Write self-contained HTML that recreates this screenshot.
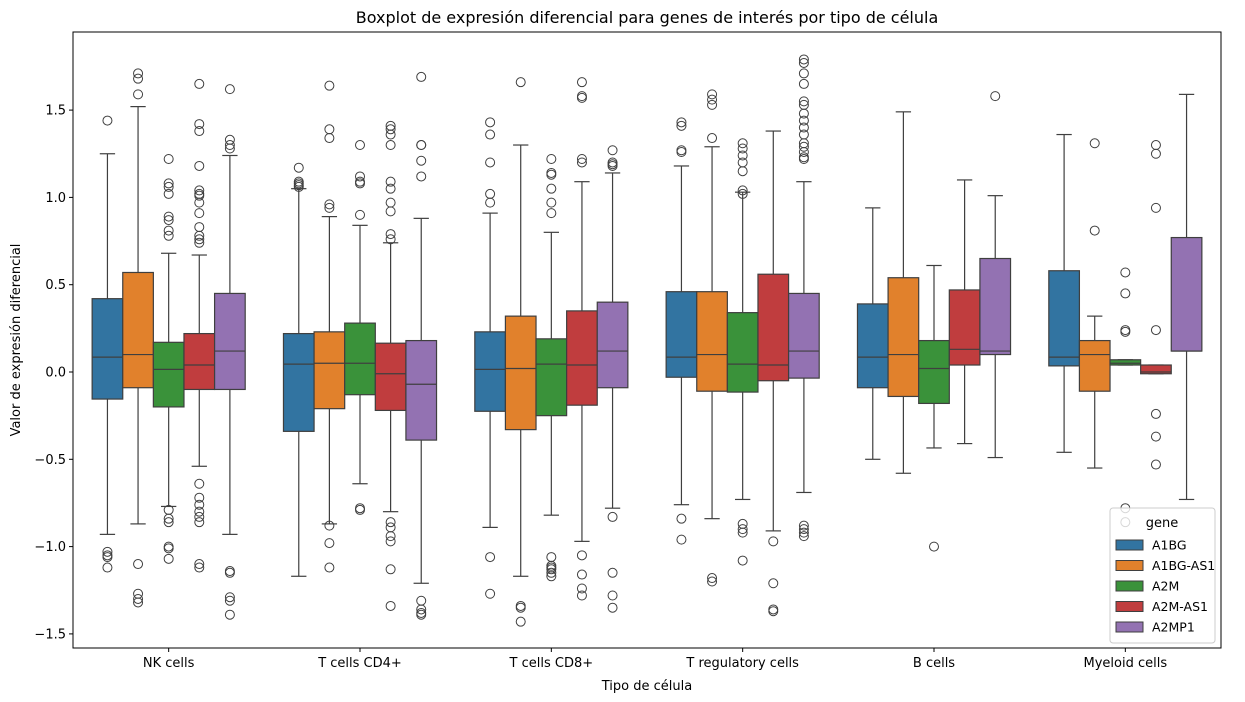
<!DOCTYPE html>
<html><head><meta charset="utf-8"><style>
body{margin:0;background:#fff;}
svg{display:block;font-family:"DejaVu Sans","Liberation Sans",sans-serif;}
</style></head><body>
<svg id="chart" width="1245" height="702" viewBox="0 0 1245 702"></svg>
<script>
const categories=["NK cells","T cells CD4+","T cells CD8+","T regulatory cells","B cells","Myeloid cells"];
const genes=["A1BG","A1BG-AS1","A2M","A2M-AS1","A2MP1"];
const colors=["#3274a1","#e1812c","#3a923a","#c03d3e","#9372b2"];
const yTicks=[-1.5,-1.0,-0.5,0.0,0.5,1.0,1.5];
// stats per category: [low whisker, q1, median, q3, high whisker]
const statsA1BG=[[-0.93,-0.155,0.085,0.42,1.25],[-1.17,-0.34,0.045,0.22,1.05],[-0.89,-0.225,0.015,0.23,0.91],[-0.76,-0.03,0.085,0.46,1.18],[-0.50,-0.09,0.085,0.39,0.94],[-0.46,0.035,0.085,0.58,1.36]];
const statsA1BGAS1=[[-0.87,-0.09,0.10,0.57,1.52],[-0.87,-0.21,0.05,0.23,0.89],[-1.17,-0.33,0.02,0.32,1.30],[-0.84,-0.11,0.10,0.46,1.29],[-0.58,-0.14,0.10,0.54,1.49],[-0.55,-0.11,0.10,0.18,0.32]];
const statsA2M=[[-0.77,-0.20,0.015,0.17,0.68],[-0.64,-0.13,0.05,0.28,0.84],[-0.82,-0.25,0.045,0.19,0.80],[-0.73,-0.115,0.045,0.34,1.03],[-0.435,-0.18,0.02,0.18,0.61],[0.04,0.04,0.05,0.07,0.07]];
const statsA2MAS1=[[-0.54,-0.10,0.04,0.22,0.67],[-0.80,-0.22,-0.01,0.165,0.74],[-0.97,-0.19,0.04,0.35,1.09],[-0.91,-0.05,0.04,0.56,1.38],[-0.41,0.04,0.13,0.47,1.10],[-0.01,-0.01,0.0,0.04,0.04]];
const statsA2MP1=[[-0.93,-0.10,0.12,0.45,1.24],[-1.21,-0.39,-0.07,0.18,0.88],[-0.78,-0.09,0.12,0.40,1.14],[-0.69,-0.035,0.12,0.45,1.09],[-0.49,0.10,0.12,0.65,1.01],[-0.73,0.12,0.12,0.77,1.59]];
const outA1BG=[[1.44,-1.03,-1.05,-1.06,-1.12],[1.17,1.09,1.08,1.07,1.06],[1.43,1.36,1.20,1.02,0.97,-1.06,-1.27],[1.43,1.41,1.27,1.26,-0.84,-0.96],[],[]];
const outA1BGAS1=[[1.71,1.68,1.59,-1.10,-1.27,-1.30,-1.32],[1.64,1.39,1.34,0.96,0.94,-0.88,-0.98,-1.12],[1.66,-1.34,-1.35,-1.43],[1.59,1.56,1.53,1.34,-1.18,-1.20],[],[1.31,0.81]];
const outA2M=[[1.22,1.08,1.06,1.02,0.89,0.87,0.81,0.78,-0.79,-0.84,-0.86,-1.0,-1.01,-1.07],[1.30,1.12,1.09,1.08,0.90,-0.78,-0.79],[1.22,1.14,1.13,1.05,0.97,0.91,-1.06,-1.11,-1.12,-1.13,-1.15,-1.17],[1.31,1.28,1.24,1.20,1.15,1.04,1.02,-0.87,-0.90,-0.92,-1.08],[-1.0],[0.57,0.45,0.24,0.23,-0.78,-0.86]];
const outA2MAS1=[[1.65,1.42,1.38,1.18,1.04,1.02,1.01,0.97,0.91,0.83,0.78,0.76,0.74,-0.64,-0.72,-0.76,-0.80,-0.83,-0.86,-1.10,-1.12],[1.41,1.39,1.36,1.30,1.09,1.05,0.97,0.92,0.79,0.76,-0.86,-0.89,-0.94,-0.97,-1.13,-1.34],[1.66,1.58,1.57,1.22,1.20,-1.05,-1.16,-1.24,-1.28],[-0.97,-1.21,-1.36,-1.37],[],[1.30,1.25,0.94,0.24,-0.24,-0.37,-0.53]];
const outA2MP1=[[1.62,1.33,1.30,1.28,-1.14,-1.15,-1.29,-1.31,-1.39],[1.69,1.30,1.30,1.21,1.12,-1.31,-1.36,-1.38,-1.39],[1.27,1.20,1.19,1.18,-0.83,-1.15,-1.28,-1.35],[1.79,1.77,1.71,1.65,1.55,1.53,1.48,1.44,1.40,1.36,1.31,1.29,1.26,1.23,1.22,-0.88,-0.90,-0.92,-0.94],[1.58],[]];
const allStats=[statsA1BG,statsA1BGAS1,statsA2M,statsA2MAS1,statsA2MP1];
const allOut=[outA1BG,outA1BGAS1,outA2M,outA2MAS1,outA2MP1];

const NS="http://www.w3.org/2000/svg";
const svg=document.getElementById('chart');
const L=73,R=1221,T=32,B=648;
const step=(R-L)/categories.length;
function xCat(i){return L+step*(i+0.5);}
function y(v){return 372-v*174.6;}
function mk(tag,attrs,parent){const e=document.createElementNS(NS,tag);for(const k in attrs)e.setAttribute(k,attrs[k]);(parent||svg).appendChild(e);return e;}
const boxW=step*0.8/genes.length;
const ink="#3f3f3f";
let t=mk('text',{x:(L+R)/2,y:23,'text-anchor':'middle','font-size':'16'});t.textContent="Boxplot de expresión diferencial para genes de interés por tipo de célula";


yTicks.forEach(v=>{
  const g=mk('g',{});
  
  
  mk('line',{x1:L-4,x2:L,y1:y(v),y2:y(v),stroke:'#000'},g);
  const tx=mk('text',{x:L-7,y:y(v)+4.5,'text-anchor':'end','font-size':'13'},g);tx.textContent=v.toFixed(1).replace('-','\u2212');
});
categories.forEach((c,i)=>{
  const g=mk('g',{});
  
  
  mk('line',{x1:xCat(i),x2:xCat(i),y1:B,y2:B+4,stroke:'#000'},g);
  const tx=mk('text',{x:xCat(i),y:B+19,'text-anchor':'middle','font-size':'13'},g);tx.textContent=c;
});
let xl=mk('text',{x:(L+R)/2,y:690,'text-anchor':'middle','font-size':'13'});xl.textContent="Tipo de célula";


let yl=mk('text',{x:20,y:(T+B)/2,'text-anchor':'middle','font-size':'13',transform:`rotate(-90 20 ${(T+B)/2})`});yl.textContent="Valor de expresión diferencial";


genes.forEach((gname,gi)=>{
  categories.forEach((c,ci)=>{
    const s=allStats[gi][ci];
    const x0=xCat(ci)-step*0.4+gi*boxW, xc=x0+boxW/2;
    const g=mk('g',{});
    
    
    mk('line',{x1:xc,x2:xc,y1:y(s[0]),y2:y(s[1]),stroke:ink,'stroke-width':1.2},g);
    mk('line',{x1:xc,x2:xc,y1:y(s[3]),y2:y(s[4]),stroke:ink,'stroke-width':1.2},g);
    mk('line',{x1:xc-boxW/4,x2:xc+boxW/4,y1:y(s[0]),y2:y(s[0]),stroke:ink,'stroke-width':1.2},g);
    mk('line',{x1:xc-boxW/4,x2:xc+boxW/4,y1:y(s[4]),y2:y(s[4]),stroke:ink,'stroke-width':1.2},g);
    mk('rect',{x:x0,y:y(s[3]),width:boxW,height:Math.max(0.5,y(s[1])-y(s[3])),fill:colors[gi],stroke:ink,'stroke-width':1.2},g);
    mk('line',{x1:x0,x2:x0+boxW,y1:y(s[2]),y2:y(s[2]),stroke:ink,'stroke-width':1.2},g);
    allOut[gi][ci].forEach(v=>{
      const o=mk('circle',{cx:xc,cy:y(v),r:4.5,fill:'none',stroke:ink,'stroke-width':1},g);
      
      
    });
  });
});
let fr=mk('rect',{x:L,y:T,width:R-L,height:B-T,fill:'none',stroke:'#000','stroke-width':1});


const lg=mk('g',{});


mk('rect',{x:1110,y:508,width:105,height:135,rx:3,fill:'#fff','fill-opacity':0.8,stroke:'#ccc'},lg);
let lt=mk('text',{x:1162,y:527,'text-anchor':'middle','font-size':'13'},lg);lt.textContent="gene";
genes.forEach((gname,gi)=>{
  const e=mk('g',{},lg);
  
  
  const yy=545+gi*20.5;
  mk('rect',{x:1116,y:yy-5,width:27,height:10,fill:colors[gi],stroke:ink,'stroke-width':1},e);
  const tx=mk('text',{x:1152,y:yy+4.5,'font-size':'12.5'},e);tx.textContent=gname;
});
</script>
</body></html>
